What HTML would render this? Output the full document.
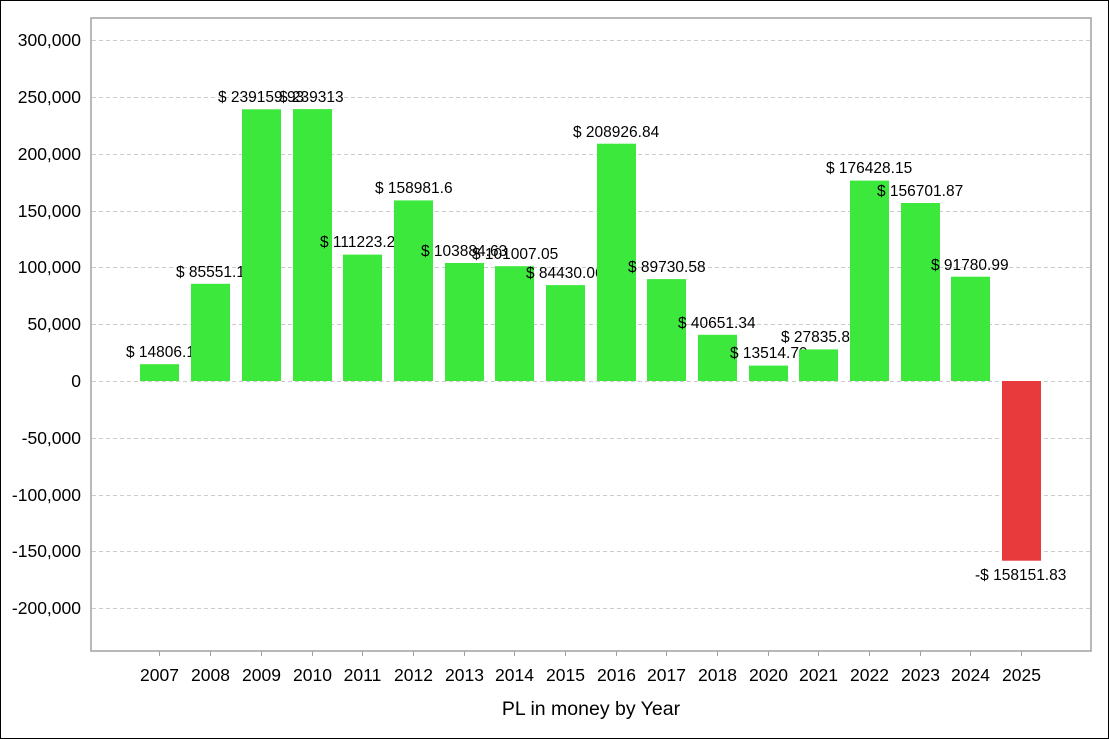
<!DOCTYPE html>
<html><head><style>body{margin:0;background:#fff}svg{display:block}text{font-family:"Liberation Sans",Arial,sans-serif;fill:#000}</style></head><body>
<svg width="1109" height="739" viewBox="0 0 1109 739" xmlns="http://www.w3.org/2000/svg">
<rect x="0.5" y="0.5" width="1108" height="738" fill="#fff" stroke="#000"/>
<g stroke="#ccc" stroke-dasharray="4,3" stroke-width="1">
<line x1="92" x2="1091" y1="40.5" y2="40.5"/><line x1="92" x2="1091" y1="97.5" y2="97.5"/><line x1="92" x2="1091" y1="154.5" y2="154.5"/><line x1="92" x2="1091" y1="211.5" y2="211.5"/><line x1="92" x2="1091" y1="267.5" y2="267.5"/><line x1="92" x2="1091" y1="324.5" y2="324.5"/><line x1="92" x2="1091" y1="381.5" y2="381.5"/><line x1="92" x2="1091" y1="438.5" y2="438.5"/><line x1="92" x2="1091" y1="495.5" y2="495.5"/><line x1="92" x2="1091" y1="551.5" y2="551.5"/><line x1="92" x2="1091" y1="608.5" y2="608.5"/>
</g>
<rect x="91" y="18" width="1000" height="633" fill="none" stroke="#a0a0a0" stroke-width="1.5"/>
<g font-size="17.5" text-anchor="end">
<text x="81" y="46">300,000</text><text x="81" y="103">250,000</text><text x="81" y="160">200,000</text><text x="81" y="217">150,000</text><text x="81" y="273">100,000</text><text x="81" y="330">50,000</text><text x="81" y="387">0</text><text x="81" y="444">-50,000</text><text x="81" y="501">-100,000</text><text x="81" y="557">-150,000</text><text x="81" y="614">-200,000</text>
</g>
<g id="bars" font-size="15.5">
<rect x="140" y="364.2" width="39" height="16.8" fill="#3de83d"/><text x="126" y="357">$ 14806.13</text>
<rect x="191" y="283.8" width="39" height="97.2" fill="#3de83d"/><text x="176" y="277">$ 85551.12</text>
<rect x="242" y="109.3" width="39" height="271.7" fill="#3de83d"/><text x="218" y="102">$ 239159.93</text>
<rect x="293" y="109.1" width="39" height="271.9" fill="#3de83d"/><text x="279" y="102">$ 239313</text>
<rect x="343" y="254.6" width="39" height="126.4" fill="#3de83d"/><text x="320" y="247">$ 111223.22</text>
<rect x="394" y="200.4" width="39" height="180.6" fill="#3de83d"/><text x="375" y="193">$ 158981.6</text>
<rect x="445" y="263" width="39" height="118" fill="#3de83d"/><text x="421" y="256">$ 103884.63</text>
<rect x="495" y="266.2" width="39" height="114.8" fill="#3de83d"/><text x="472" y="259">$ 101007.05</text>
<rect x="546" y="285.1" width="39" height="95.9" fill="#3de83d"/><text x="526" y="278">$ 84430.06</text>
<rect x="597" y="143.7" width="39" height="237.3" fill="#3de83d"/><text x="573" y="137">$ 208926.84</text>
<rect x="647" y="279.1" width="39" height="101.9" fill="#3de83d"/><text x="628" y="272">$ 89730.58</text>
<rect x="698" y="334.8" width="39" height="46.2" fill="#3de83d"/><text x="678" y="328">$ 40651.34</text>
<rect x="749" y="365.6" width="39" height="15.4" fill="#3de83d"/><text x="730" y="358">$ 13514.79</text>
<rect x="799" y="349.4" width="39" height="31.6" fill="#3de83d"/><text x="781" y="342">$ 27835.81</text>
<rect x="850" y="180.6" width="39" height="200.4" fill="#3de83d"/><text x="826" y="173">$ 176428.15</text>
<rect x="901" y="203" width="39" height="178" fill="#3de83d"/><text x="877" y="196">$ 156701.87</text>
<rect x="951" y="276.7" width="39" height="104.3" fill="#3de83d"/><text x="931" y="270">$ 91780.99</text>
<rect x="1002" y="381" width="39" height="179.7" fill="#e8393d"/><text x="975" y="580">-$ 158151.83</text>
</g>
<g stroke="#a0a0a0"><line x1="159.5" x2="159.5" y1="651" y2="656"/><line x1="210.5" x2="210.5" y1="651" y2="656"/><line x1="261.5" x2="261.5" y1="651" y2="656"/><line x1="312.5" x2="312.5" y1="651" y2="656"/><line x1="362.5" x2="362.5" y1="651" y2="656"/><line x1="413.5" x2="413.5" y1="651" y2="656"/><line x1="464.5" x2="464.5" y1="651" y2="656"/><line x1="514.5" x2="514.5" y1="651" y2="656"/><line x1="565.5" x2="565.5" y1="651" y2="656"/><line x1="616.5" x2="616.5" y1="651" y2="656"/><line x1="666.5" x2="666.5" y1="651" y2="656"/><line x1="717.5" x2="717.5" y1="651" y2="656"/><line x1="768.5" x2="768.5" y1="651" y2="656"/><line x1="818.5" x2="818.5" y1="651" y2="656"/><line x1="869.5" x2="869.5" y1="651" y2="656"/><line x1="920.5" x2="920.5" y1="651" y2="656"/><line x1="970.5" x2="970.5" y1="651" y2="656"/><line x1="1021.5" x2="1021.5" y1="651" y2="656"/></g>
<g font-size="17.5" text-anchor="middle">
<text x="159.5" y="681">2007</text><text x="210.5" y="681">2008</text><text x="261.5" y="681">2009</text><text x="312.5" y="681">2010</text><text x="362.5" y="681">2011</text><text x="413.5" y="681">2012</text><text x="464.5" y="681">2013</text><text x="514.5" y="681">2014</text><text x="565.5" y="681">2015</text><text x="616.5" y="681">2016</text><text x="666.5" y="681">2017</text><text x="717.5" y="681">2018</text><text x="768.5" y="681">2020</text><text x="818.5" y="681">2021</text><text x="869.5" y="681">2022</text><text x="920.5" y="681">2023</text><text x="970.5" y="681">2024</text><text x="1021.5" y="681">2025</text>
<text x="591" y="715" font-size="19.5">PL in money by Year</text>
</g>
</svg>
</body></html>
